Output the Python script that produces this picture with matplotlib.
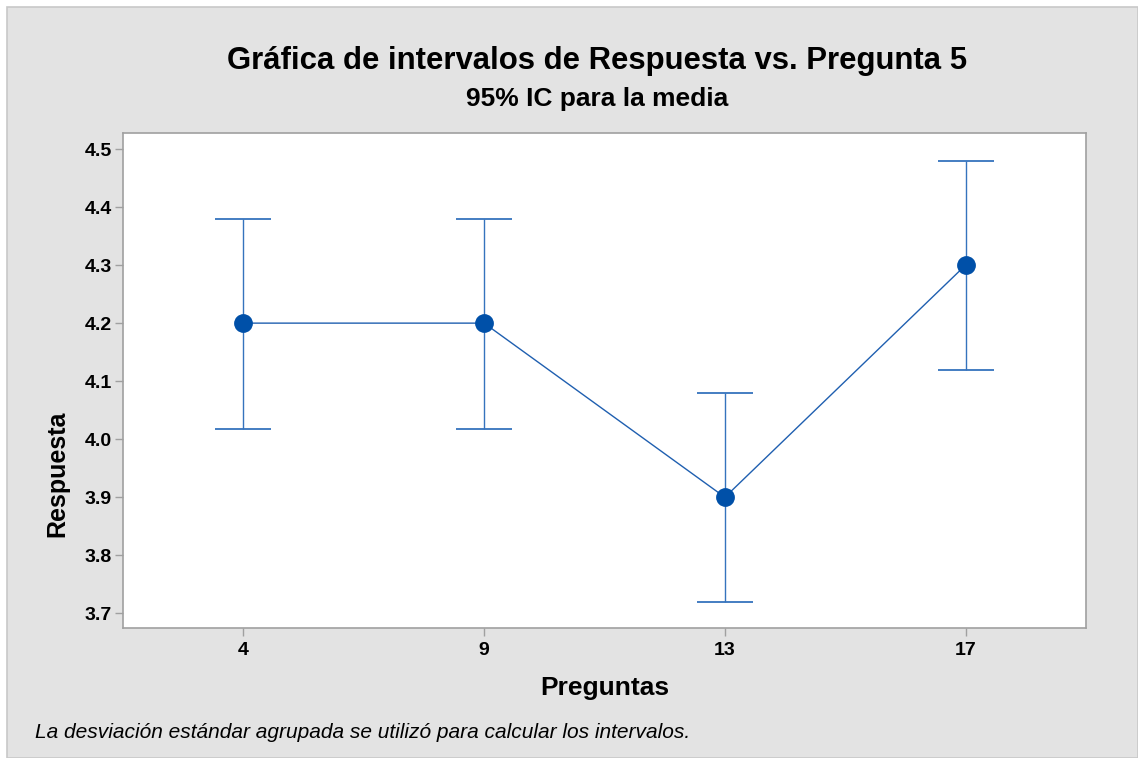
import matplotlib
matplotlib.use("Agg")
import matplotlib.pyplot as plt
from matplotlib.patches import Rectangle

categories = ["4", "9", "13", "17"]
means = [4.2, 4.2, 3.9, 4.3]
lower = [4.017, 4.017, 3.719, 4.119]
upper = [4.380, 4.380, 4.079, 4.479]
yticks = [3.7, 3.8, 3.9, 4.0, 4.1, 4.2, 4.3, 4.4, 4.5]

plt.rcParams['font.family'] = ['Liberation Sans', 'DejaVu Sans']

W, H = 1138, 758
fig = plt.figure(figsize=(W / 100, H / 100), dpi=100)
fig.patch.set_facecolor("white")
bg = Rectangle((7 / W, 0), 1 - 7 / W, 1 - 7 / H, transform=fig.transFigure,
               facecolor="#e3e3e3", edgecolor="#c8c8c8", linewidth=1.2, zorder=-10)
fig.patches.append(bg)

left, right, top, bottom = 123, 1086, 133, 628
ax = fig.add_axes([left / W, 1 - bottom / H, (right - left) / W, (bottom - top) / H])
ax.set_facecolor("white")

x = list(range(len(categories)))
err_lo = [m - l for m, l in zip(means, lower)]
err_hi = [u - m for m, u in zip(means, upper)]

ax.errorbar(x, means, yerr=[err_lo, err_hi], fmt="none", ecolor="#3573bd",
            elinewidth=1.0, capsize=20, capthick=1.3, zorder=2)
ax.plot(x, means, color="#1f5fb0", linewidth=1.0, zorder=3)
ax.plot(x, means, "o", color="#0050a8", markersize=12.5, zorder=4)

ax.set_xlim(-0.5, 3.5)
ax.set_ylim(3.6747, 4.5276)
ax.set_xticks(x)
ax.set_xticklabels(categories)
ax.set_yticks(yticks)
ax.set_yticklabels([f"{v:.1f}" for v in yticks])

for s in ax.spines.values():
    s.set_color("#a0a0a0")
    s.set_linewidth(1.2)
ax.tick_params(axis="both", colors="#a0a0a0", length=6, width=1.0, direction="out")
for lab in ax.get_xticklabels() + ax.get_yticklabels():
    lab.set_color("black")
    lab.set_fontweight("bold")
    lab.set_fontsize(14)
ax.tick_params(axis="x", pad=4)
ax.tick_params(axis="y", pad=2)

ax.set_xlabel("Preguntas", fontsize=19, fontweight="bold", labelpad=12)
fig.text(57 / W, 1 - 474 / H, "Respuesta", rotation=90, ha="center", va="center",
         fontsize=18, fontweight="bold")

fig.text(597 / W, 1 - 61 / H, "Gráfica de intervalos de Respuesta vs. Pregunta 5",
         ha="center", va="center", fontsize=22.4, fontweight="bold")
fig.text(597 / W, 1 - 99 / H, "95% IC para la media",
         ha="center", va="center", fontsize=19, fontweight="bold")
fig.text(35 / W, 1 - 733 / H,
         "La desviación estándar agrupada se utilizó para calcular los intervalos.",
         ha="left", va="center", fontsize=15, style="italic")

fig.savefig("out.png", dpi=100, facecolor=fig.get_facecolor())
